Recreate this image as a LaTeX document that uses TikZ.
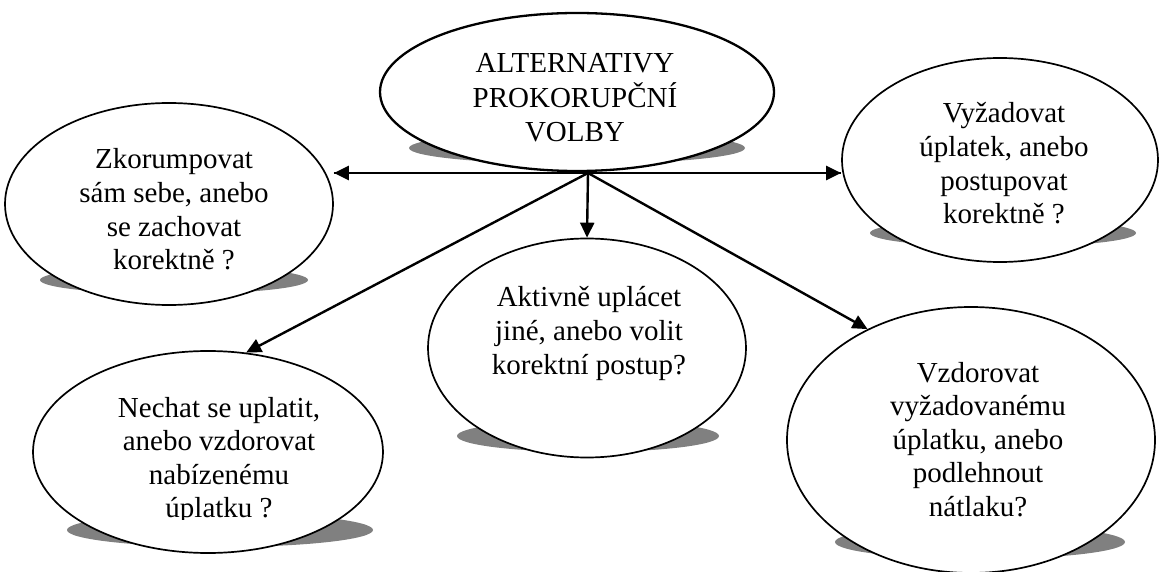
\documentclass[tikz,border=0pt]{standalone}
\usepackage{fontspec}
\setmainfont{Liberation Serif}
\usetikzlibrary{arrows.meta,shapes.geometric}

\definecolor{shadowgray}{RGB}{128,128,128}

% centred lines whose reference point is the first baseline
\newcommand{\linestack}[1]{\begin{tabular}[t]{@{}c@{}}#1\end{tabular}}

\tikzset{
  dims/.style 2 args={minimum width=#1, minimum height=#2},
  bubble/.style={ellipse, draw=black, fill=white, line width=1.7pt, inner sep=0pt},
  dropshade/.style={ellipse, fill=shadowgray, draw=none, inner sep=0pt},
  caption/.style={anchor=base, inner sep=0pt, font=\fontsize{29}{33.6}\selectfont},
  link/.style={line width=2.4pt, -{Triangle[length=15pt,width=14pt]}},
}

\begin{document}
\begin{tikzpicture}[x=1pt, y=-1pt]
\useasboundingbox (0,0) rectangle (1160,572);

% shadows under the bubbles
\node[dropshade, dims={336pt}{32pt}] (sT)  at (577,148) {};
\node[dropshade, dims={268pt}{28pt}] (sL)  at (174,280) {};
\node[dropshade, dims={266pt}{28pt}] (sR)  at (1003,233) {};
\node[dropshade, dims={262pt}{32pt}] (sM)  at (588,436) {};
\node[dropshade, dims={306pt}{34pt}] (sBL) at (220,530) {};
\node[dropshade, dims={290pt}{34pt}] (sBR) at (980,542) {};

% bubbles
\node[bubble, line width=2.3pt, dims={394pt}{158pt}] (T) at (577,92) {};
\node[bubble, dims={328pt}{202pt}] (L)  at (169,204) {};
\node[bubble, dims={316pt}{204pt}] (R)  at (1000,160) {};
\node[bubble, dims={318pt}{219pt}] (M)  at (587,348) {};
\node[bubble, dims={350pt}{202pt}] (BL) at (208,452) {};
\node[bubble, dims={368pt}{266pt}] (BR) at (971,440) {};

% connectors from the hub under the top bubble
\coordinate (hub) at (588,173);
\draw[line width=2.4pt] (hub -| L.east) -- (hub -| R.west);
\draw[link] (hub) -- (hub -| L.east);
\draw[link] (hub) -- (hub -| R.west);
\draw[link] (hub) -- (M.north);
\draw[link] (hub) -- (BL.69);
\draw[link] (hub) -- (BR.133);

% texts
\node[caption] (tT) at (575,73) {\linestack{ALTERNATIVY\\PROKORUPČNÍ\\VOLBY}};
\node[caption] (tL) at (174,169) {\linestack{Zkorumpovat\\sám sebe, anebo\\se zachovat\\korektně ?}};
\node[caption] (tR) at (1004,123) {\linestack{Vyžadovat\\úplatek, anebo\\postupovat\\korektně ?}};
\node[caption] (tM) at (589,307) {\linestack{Aktivně uplácet\\jiné, anebo volit\\korektní postup?}};
\begin{scope}
  \clip (0,0) rectangle (1160,519);
  \node[caption] (tBL) at (219,417) {\linestack{Nechat se uplatit,\\anebo vzdorovat\\nabízenému\\úplatku ?}};
\end{scope}
\node[caption] (tBR) at (978,382) {\linestack{Vzdorovat\\vyžadovanému\\úplatku, anebo\\podlehnout\\nátlaku?}};
\end{tikzpicture}
\end{document}
